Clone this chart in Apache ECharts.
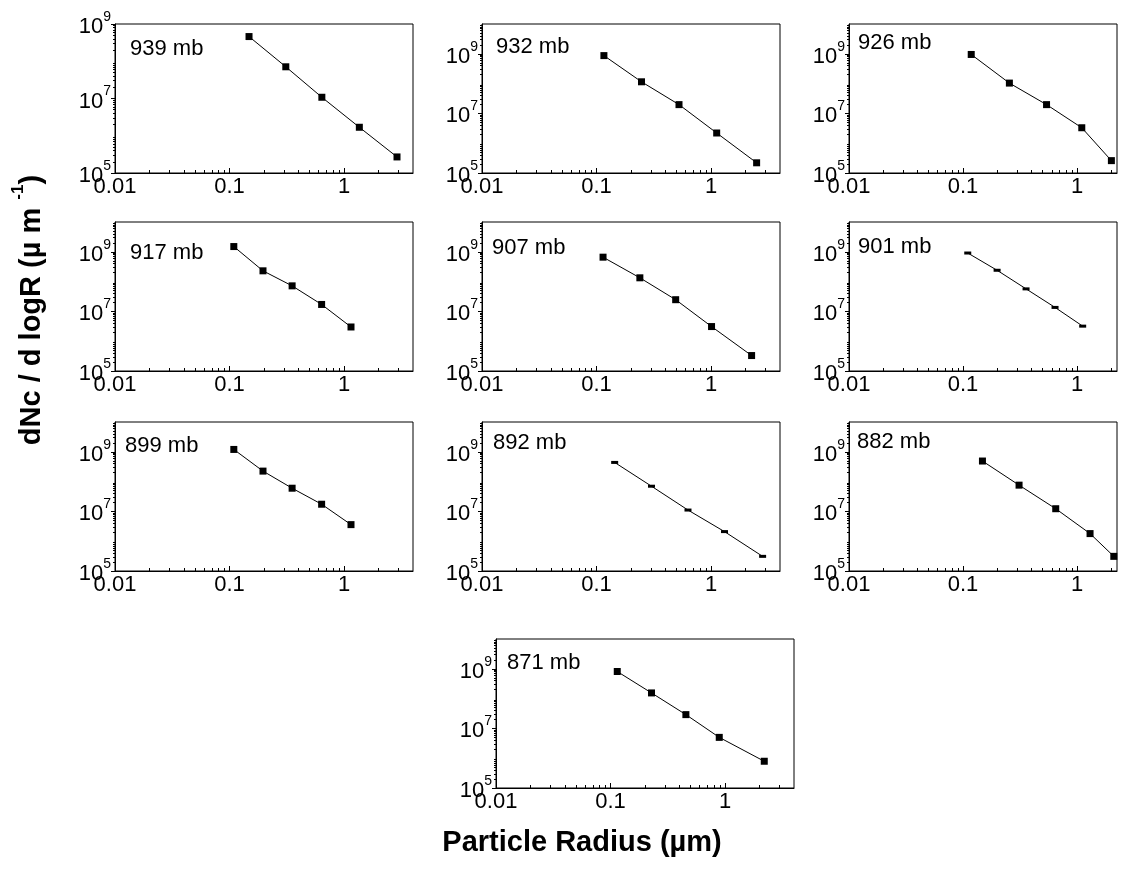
<!DOCTYPE html>
<html><head><meta charset="utf-8">
<script src="https://cdn.jsdelivr.net/npm/echarts@6/dist/echarts.min.js"></script>
<style>html,body{margin:0;padding:0;background:#fff}#c{width:1140px;height:876px}</style>
</head><body><div id="c"></div>
<script>
// ---- data ----
const panelNames = ['939 mb','932 mb','926 mb','917 mb','907 mb','901 mb','899 mb','892 mb','882 mb','871 mb'];
const radius939 = [0.148, 0.31, 0.64, 1.36, 2.9];
const conc939   = [4.6e8, 7.1e7, 1.08e7, 1.69e6, 2.7e5];
const radius932 = [0.116, 0.247, 0.525, 1.12, 2.5];
const conc932   = [8.7e8, 1.15e8, 1.97e7, 2.2e6, 2.2e5];
const radius926 = [0.118, 0.255, 0.54, 1.1, 2.0];
const conc926   = [9.5e8, 1.04e8, 1.97e7, 3.3e6, 2.6e5];
const radius917 = [0.109, 0.196, 0.352, 0.637, 1.15];
const conc917   = [1.5e9, 2.3e8, 7.2e7, 1.71e7, 3.0e6];
const radius907 = [0.114, 0.239, 0.491, 1.01, 2.26];
const conc907   = [6.6e8, 1.34e8, 2.47e7, 3.1e6, 3.3e5];
const radius901 = [0.11, 0.199, 0.357, 0.641, 1.12];
const conc901   = [9.1e8, 2.4e8, 5.7e7, 1.36e7, 3.2e6];
const radius899 = [0.109, 0.196, 0.352, 0.637, 1.15];
const conc899   = [1.2e9, 2.25e8, 6.0e7, 1.74e7, 3.6e6];
const radius892 = [0.144, 0.302, 0.629, 1.31, 2.82];
const conc892   = [4.4e8, 7.0e7, 1.11e7, 2.1e6, 3.1e5];
const radius882 = [0.148, 0.31, 0.65, 1.3, 2.1];
const conc882   = [4.9e8, 7.6e7, 1.23e7, 1.8e6, 3.1e5];
const radius871 = [0.1145, 0.228, 0.455, 0.89, 2.2];
const conc871   = [8.1e8, 1.55e8, 2.9e7, 5.0e6, 7.9e5];

const radii = [radius939, radius932, radius926, radius917, radius907, radius901, radius899, radius892, radius882, radius871];
const concs = [conc939, conc932, conc926, conc917, conc907, conc901, conc899, conc892, conc882, conc871];

const xTickValues = [0.01, 0.1, 1];
const xTickLabels = ['0.01', '0.1', '1'];
const yTickValues = [1e5, 1e7, 1e9];
const yTickExponents = ['5', '7', '9'];
const xAxisTitle = 'Particle Radius (\u00b5m)';
const yAxisTitleMain = 'dNc / d logR (\u00b5 m ';
const yAxisTitleSup = '-1';

// ---- layout ----
const layout = [
  {l:115, t:24,  w:298, h:149, xmax:4,    ymax:1e9,  lx:15, ly:25, small:false},
  {l:482, t:24,  w:298, h:149, xmax:4,    ymax:1e10, lx:14, ly:23, small:false},
  {l:849, t:24,  w:268, h:149, xmax:2.24, ymax:1e10, lx:9,  ly:19, small:false},
  {l:115, t:222, w:298, h:149, xmax:4,    ymax:1e10, lx:15, ly:31, small:false},
  {l:482, t:222, w:298, h:149, xmax:4,    ymax:1e10, lx:10, ly:26, small:false},
  {l:849, t:222, w:268, h:149, xmax:2.24, ymax:1e10, lx:9,  ly:25, small:true},
  {l:115, t:422, w:298, h:149, xmax:4,    ymax:1e10, lx:10, ly:24, small:false},
  {l:482, t:422, w:298, h:149, xmax:4,    ymax:1e10, lx:11, ly:21, small:true},
  {l:849, t:422, w:268, h:149, xmax:2.24, ymax:1e10, lx:8,  ly:20, small:false},
  {l:496, t:639, w:298, h:149, xmax:4,    ymax:1e10, lx:11, ly:24, small:false}
];

const FONT = '"Liberation Sans", Arial, sans-serif';

function minorTicks(lo, hi) {
  const out = [];
  for (let k = Math.floor(Math.log10(lo)); k <= Math.ceil(Math.log10(hi)); k++) {
    for (let m = 2; m <= 9; m++) {
      const v = m * Math.pow(10, k);
      if (v > lo && v < hi) out.push(v);
    }
  }
  return out;
}
function matchIdx(arr, v) {
  return arr.findIndex(t => Math.abs(Math.log10(t) - Math.log10(v)) < 1e-6);
}

const grids = [], xAxes = [], yAxes = [], series = [], graphics = [];
layout.forEach((p, i) => {
  grids.push({left: p.l, top: p.t, width: p.w, height: p.h, show: true, borderColor: '#000', borderWidth: 1, containLabel: false});
  xAxes.push({
    type: 'log', logBase: 10, gridIndex: i, min: 0.01, max: p.xmax, position: 'bottom',
    axisLine: {show: true, lineStyle: {color: '#000', width: 1}},
    axisTick: {show: true, inside: true, length: 5, lineStyle: {color: '#000'}, customValues: xTickValues},
    axisLabel: {show: true, customValues: xTickValues, margin: 3, color: '#000', fontSize: 22, fontFamily: FONT,
      formatter: v => { const k = matchIdx(xTickValues, v); return k >= 0 ? xTickLabels[k] : ''; }},
    splitLine: {show: false}, minorTick: {show: false}
  });
  xAxes.push({
    type: 'log', logBase: 10, gridIndex: i, min: 0.01, max: p.xmax, position: 'bottom',
    axisLine: {show: false},
    axisTick: {show: true, inside: true, length: 3, lineStyle: {color: '#000'}, customValues: minorTicks(0.01, p.xmax)},
    axisLabel: {show: false}, splitLine: {show: false}
  });
  yAxes.push({
    type: 'log', logBase: 10, gridIndex: i, min: 1e5, max: p.ymax, position: 'left',
    axisLine: {show: true, lineStyle: {color: '#000', width: 1}},
    axisTick: {show: true, inside: false, length: 4, lineStyle: {color: '#000'}, customValues: yTickValues},
    axisLabel: {show: true, customValues: yTickValues, margin: 4, color: '#000', fontFamily: FONT,
      formatter: v => { const k = matchIdx(yTickValues, v); return k >= 0 ? '{b|10}{s|' + yTickExponents[k] + '}' : ''; },
      rich: {
        b: {fontSize: 22, fontFamily: FONT, color: '#000', padding: [6, 0, 0, 0]},
        s: {fontSize: 14, fontFamily: FONT, color: '#000', verticalAlign: 'top'}
      }},
    splitLine: {show: false}
  });
  yAxes.push({
    type: 'log', logBase: 10, gridIndex: i, min: 1e5, max: p.ymax, position: 'left',
    axisLine: {show: false},
    axisTick: {show: true, inside: false, length: 2, lineStyle: {color: '#000'}, customValues: minorTicks(1e5, p.ymax)},
    axisLabel: {show: false}, splitLine: {show: false}
  });
  series.push({
    type: 'line', xAxisIndex: 2 * i, yAxisIndex: 2 * i,
    data: radii[i].map((r, j) => [r, concs[i][j]]),
    symbol: 'rect', symbolSize: p.small ? [7, 3] : 7,
    lineStyle: {color: '#000', width: 1}, itemStyle: {color: '#000'},
    animation: false, silent: true, clip: false
  });
  graphics.push({
    type: 'text', x: p.l + p.lx, y: p.t + p.ly,
    style: {text: panelNames[i], fill: '#000', font: '22px ' + FONT, align: 'left', verticalAlign: 'middle'}
  });
});

graphics.push({
  type: 'text', x: 582, y: 843,
  style: {text: xAxisTitle, fill: '#000', font: 'bold 29px ' + FONT, align: 'center', verticalAlign: 'middle'}
});
graphics.push({
  type: 'text', x: 28, y: 310, rotation: Math.PI / 2,
  style: {
    text: '{t|' + yAxisTitleMain + '}{s|' + yAxisTitleSup + '}{t|)}',
    align: 'center', verticalAlign: 'middle', fill: '#000',
    rich: {
      t: {fontSize: 29, fontWeight: 'bold', fontFamily: FONT, fill: '#000', padding: [8, 0, 0, 0]},
      s: {fontSize: 17, fontWeight: 'bold', fontFamily: FONT, fill: '#000', verticalAlign: 'top'}
    }
  }
});

const chart = echarts.init(document.getElementById('c'), null, {renderer: 'canvas'});
chart.setOption({
  backgroundColor: '#fff',
  animation: false,
  grid: grids, xAxis: xAxes, yAxis: yAxes, series: series, graphic: graphics
});
</script></body></html>
